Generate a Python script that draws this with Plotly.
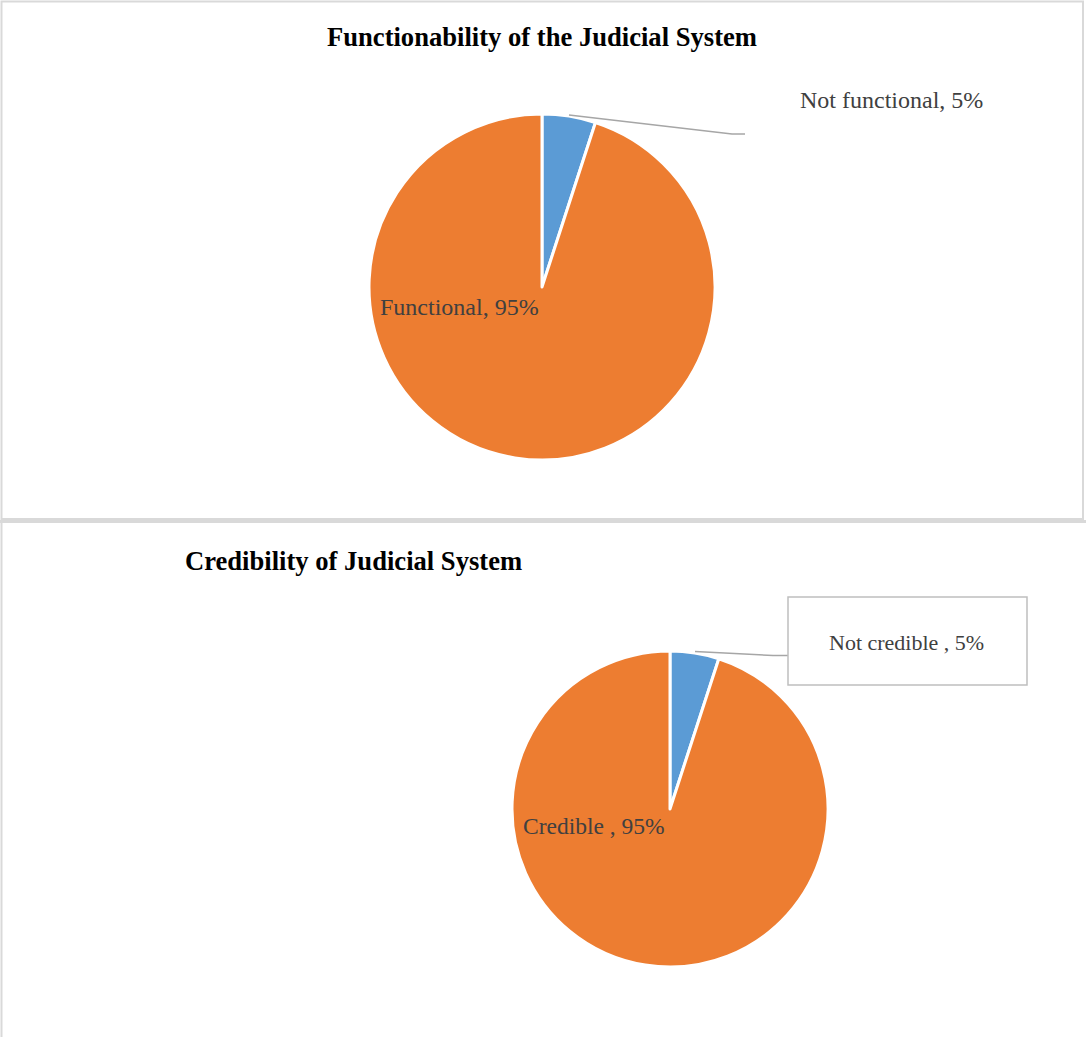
import plotly.graph_objects as go

W, H = 1086, 1037

# Survey shares (percent)
func_labels = ["Not functional", "Functional"]
func_values = [5, 95]
cred_labels = ["Not credible ", "Credible "]
cred_values = [5, 95]
colors = ["#5B9BD5", "#ED7D31"]

titles = ["Functionability of the Judicial System", "Credibility of Judicial System"]


def px_x(x):
    return x / W


def px_y(y):
    return 1 - y / H


def domain(cx, cy, r):
    return dict(x=[px_x(cx - r), px_x(cx + r)], y=[px_y(cy + r), px_y(cy - r)])


fig = go.Figure()

fig.add_trace(go.Pie(
    labels=func_labels, values=func_values, sort=False, direction="clockwise",
    rotation=0, textinfo="none", hoverinfo="label+percent", showlegend=False,
    marker=dict(colors=colors, line=dict(color="white", width=3)),
    domain=domain(542, 287, 173),
))
fig.add_trace(go.Pie(
    labels=cred_labels, values=cred_values, sort=False, direction="clockwise",
    rotation=0, textinfo="none", hoverinfo="label+percent", showlegend=False,
    marker=dict(colors=colors, line=dict(color="white", width=3)),
    domain=domain(670, 809, 158),
))

serif = "Liberation Serif, Times New Roman, serif"
label_font = dict(family=serif, size=24, color="#404040")

annotations = [
    dict(x=px_x(542), y=px_y(37), text=f"<b>{titles[0]}</b>",
         font=dict(family=serif, size=26.6, color="black")),
    dict(x=px_x(353.5), y=px_y(561), text=f"<b>{titles[1]}</b>",
         font=dict(family=serif, size=26.6, color="black")),
    dict(x=px_x(891), y=px_y(100), text=f"{func_labels[0]}, {func_values[0]}%", font=label_font),
    dict(x=px_x(459), y=px_y(307), text=f"{func_labels[1]}, {func_values[1]}%", font=label_font),
    dict(x=px_x(906), y=px_y(642), text=f"{cred_labels[0]}, {cred_values[0]}%",
         font=dict(family=serif, size=22, color="#404040")),
    dict(x=px_x(594), y=px_y(826), text=f"{cred_labels[1]}, {cred_values[1]}%",
         font=dict(family=serif, size=23.5, color="#404040")),
]
for a in annotations:
    a.update(xref="paper", yref="paper", showarrow=False, xanchor="center", yanchor="middle")

border = "#D9D9D9"
leader = "#A6A6A6"
shapes = [
    # panel frames
    dict(type="rect", x0=px_x(1.5), x1=px_x(1083), y0=px_y(519), y1=px_y(1.5),
         line=dict(color=border, width=2)),
    dict(type="line", x0=0, x1=1, y0=px_y(521.5), y1=px_y(521.5),
         line=dict(color=border, width=3)),
    dict(type="line", x0=px_x(1.5), x1=px_x(1.5), y0=px_y(521), y1=0,
         line=dict(color=border, width=2)),
    # leader lines
    dict(type="path", path=f"M {px_x(569)} {px_y(115)} L {px_x(732)} {px_y(134)} L {px_x(745)} {px_y(134)}",
         line=dict(color=leader, width=1.5)),
    dict(type="path", path=f"M {px_x(695)} {px_y(651.5)} L {px_x(773)} {px_y(655.5)} L {px_x(788)} {px_y(655.5)}",
         line=dict(color=leader, width=1.5)),
    # callout box
    dict(type="rect", x0=px_x(788), x1=px_x(1027), y0=px_y(685), y1=px_y(597),
         line=dict(color="#BFBFBF", width=1.5), fillcolor="white"),
]
for s in shapes:
    s.update(xref="paper", yref="paper")

fig.update_layout(
    width=W, height=H, margin=dict(l=0, r=0, t=0, b=0),
    paper_bgcolor="white", plot_bgcolor="white",
    annotations=annotations, shapes=shapes,
)

fig.write_html("out.html")
